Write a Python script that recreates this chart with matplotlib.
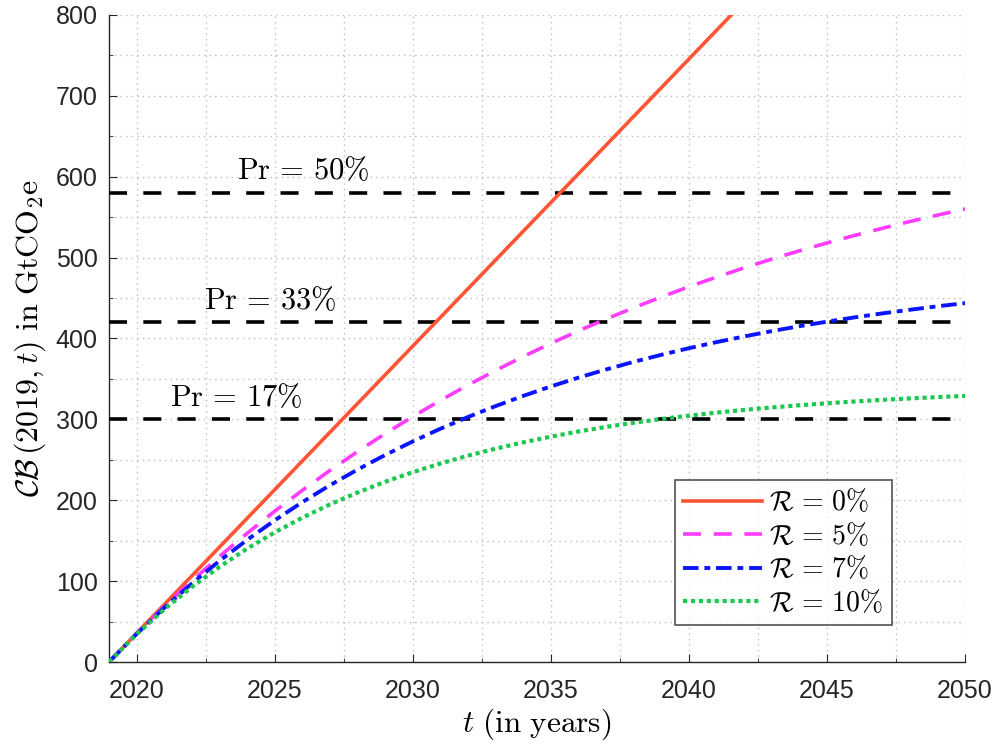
import matplotlib
matplotlib.use("Agg")
import matplotlib.pyplot as plt
from matplotlib.ticker import MultipleLocator

# -----------------------------
# Data
# -----------------------------
years = list(range(2019, 2051))

cb_r0 = [0, 35.5, 71, 106.5, 142, 177.5, 213, 248.5, 284, 319.5, 355, 390.5,
         426, 461.5, 497, 532.5, 568, 603.5, 639, 674.5, 710, 745.5, 781,
         816.5, 852, 887.5, 923, 958.5, 994, 1029.5, 1065, 1100.5]
cb_r5 = [0, 35.2, 68.6, 100.3, 130.5, 159.1, 186.4, 212.2, 236.8, 260.1,
         282.3, 303.4, 323.4, 342.4, 360.4, 377.6, 393.9, 409.4, 424.1, 438.0,
         451.3, 463.9, 475.9, 487.3, 498.1, 508.4, 518.1, 527.4, 536.2, 544.6,
         552.5, 560.1]
cb_r7 = [0, 34.7, 67.0, 97.0, 125.0, 150.9, 175.1, 197.6, 218.5, 237.9,
         255.9, 272.7, 288.4, 302.9, 316.4, 329.0, 340.7, 351.6, 361.7, 371.1,
         379.8, 388.0, 395.5, 402.5, 409.1, 415.2, 420.8, 426.1, 431.0, 435.5,
         439.8, 443.7]
cb_r10 = [0, 34.2, 65.0, 92.7, 117.6, 140.1, 160.2, 178.4, 194.8, 209.5,
          222.8, 234.7, 245.4, 255.1, 263.8, 271.6, 278.6, 285.0, 290.7, 295.8,
          300.4, 304.6, 308.3, 311.7, 314.7, 317.4, 319.9, 322.1, 324.1, 325.9,
          327.5, 329.0]

budget_levels = [580, 420, 300]
budget_labels = [r"$\mathrm{Pr}\, =\, 50\%$", r"$\mathrm{Pr}\, =\, 33\%$", r"$\mathrm{Pr}\, =\, 17\%$"]
label_x = [2026.05, 2024.85, 2023.6]

plt.rcParams["mathtext.fontset"] = "cm"
plt.rcParams["font.family"] = ["Liberation Sans", "DejaVu Sans"]

fig = plt.figure(figsize=(9.96, 7.45), dpi=100)
ax = fig.add_axes([0.1094, 0.1114, 0.8595, 0.8685])

# grid
ax.grid(True, which="both", linestyle=(0, (1, 3)), color="#bdbdbd", linewidth=1.0)
ax.set_axisbelow(True)

# budget lines
for lvl, lab, lx in zip(budget_levels, budget_labels, label_x):
    ax.plot([2019, 2050], [lvl, lvl], color="black", linewidth=2.6,
            linestyle=(0, (5, 4.5)), zorder=3)
    ax.text(lx, lvl + 8, lab, ha="center", va="bottom", fontsize=22, zorder=4)

# curves
ax.plot(years, cb_r0, color="#ff5535", linewidth=2.6, label=r"$\mathcal{R}\, =\, 0\%$", zorder=5)
ax.plot(years, cb_r5, color="#ff3cff", linewidth=2.6, linestyle=(0, (5, 3.5)),
        label=r"$\mathcal{R}\, =\, 5\%$", zorder=5)
ax.plot(years, cb_r7, color="#0a14ff", linewidth=2.8, linestyle=(0, (4, 1.5, 1.5, 1.5)),
        label=r"$\mathcal{R}\, =\, 7\%$", zorder=5)
ax.plot(years, cb_r10, color="#1ec850", linewidth=3.0, linestyle=(0, (1, 0.9)),
        label=r"$\mathcal{R}\, =\, 10\%$", zorder=5)

ax.set_xlim(2019, 2050)
ax.set_ylim(0, 800)
ax.xaxis.set_major_locator(MultipleLocator(5))
ax.xaxis.set_minor_locator(MultipleLocator(2.5))
ax.yaxis.set_major_locator(MultipleLocator(100))
ax.yaxis.set_minor_locator(MultipleLocator(50))
ax.set_xticks([2020, 2025, 2030, 2035, 2040, 2045, 2050])

for s in ["top", "right"]:
    ax.spines[s].set_visible(False)
for s in ["left", "bottom"]:
    ax.spines[s].set_color("#262626")
    ax.spines[s].set_linewidth(1.0)

ax.tick_params(which="both", direction="in", colors="#262626", labelsize=18)
ax.tick_params(which="major", length=6)
ax.tick_params(which="minor", length=3)
ax.tick_params(axis="x", pad=12)
ax.tick_params(axis="y", pad=8)

ax.set_xlabel(r"$t\ \mathrm{(in\ years)}$", fontsize=22.5, labelpad=3)
ax.set_ylabel(r"$\mathcal{CB}\,(2019, t)\ \mathrm{in\ GtCO_2e}$", fontsize=23, labelpad=6)

leg = ax.legend(loc="lower right", bbox_to_anchor=(0.9147, 0.0572), fontsize=20,
                frameon=True, fancybox=False, handlelength=2.85, handletextpad=0.25,
                borderpad=0.3, labelspacing=0.2, borderaxespad=0)
leg.get_frame().set_edgecolor("#262626")
leg.get_frame().set_linewidth(1.2)
leg.set_zorder(10)

fig.savefig("out.png", dpi=100)
